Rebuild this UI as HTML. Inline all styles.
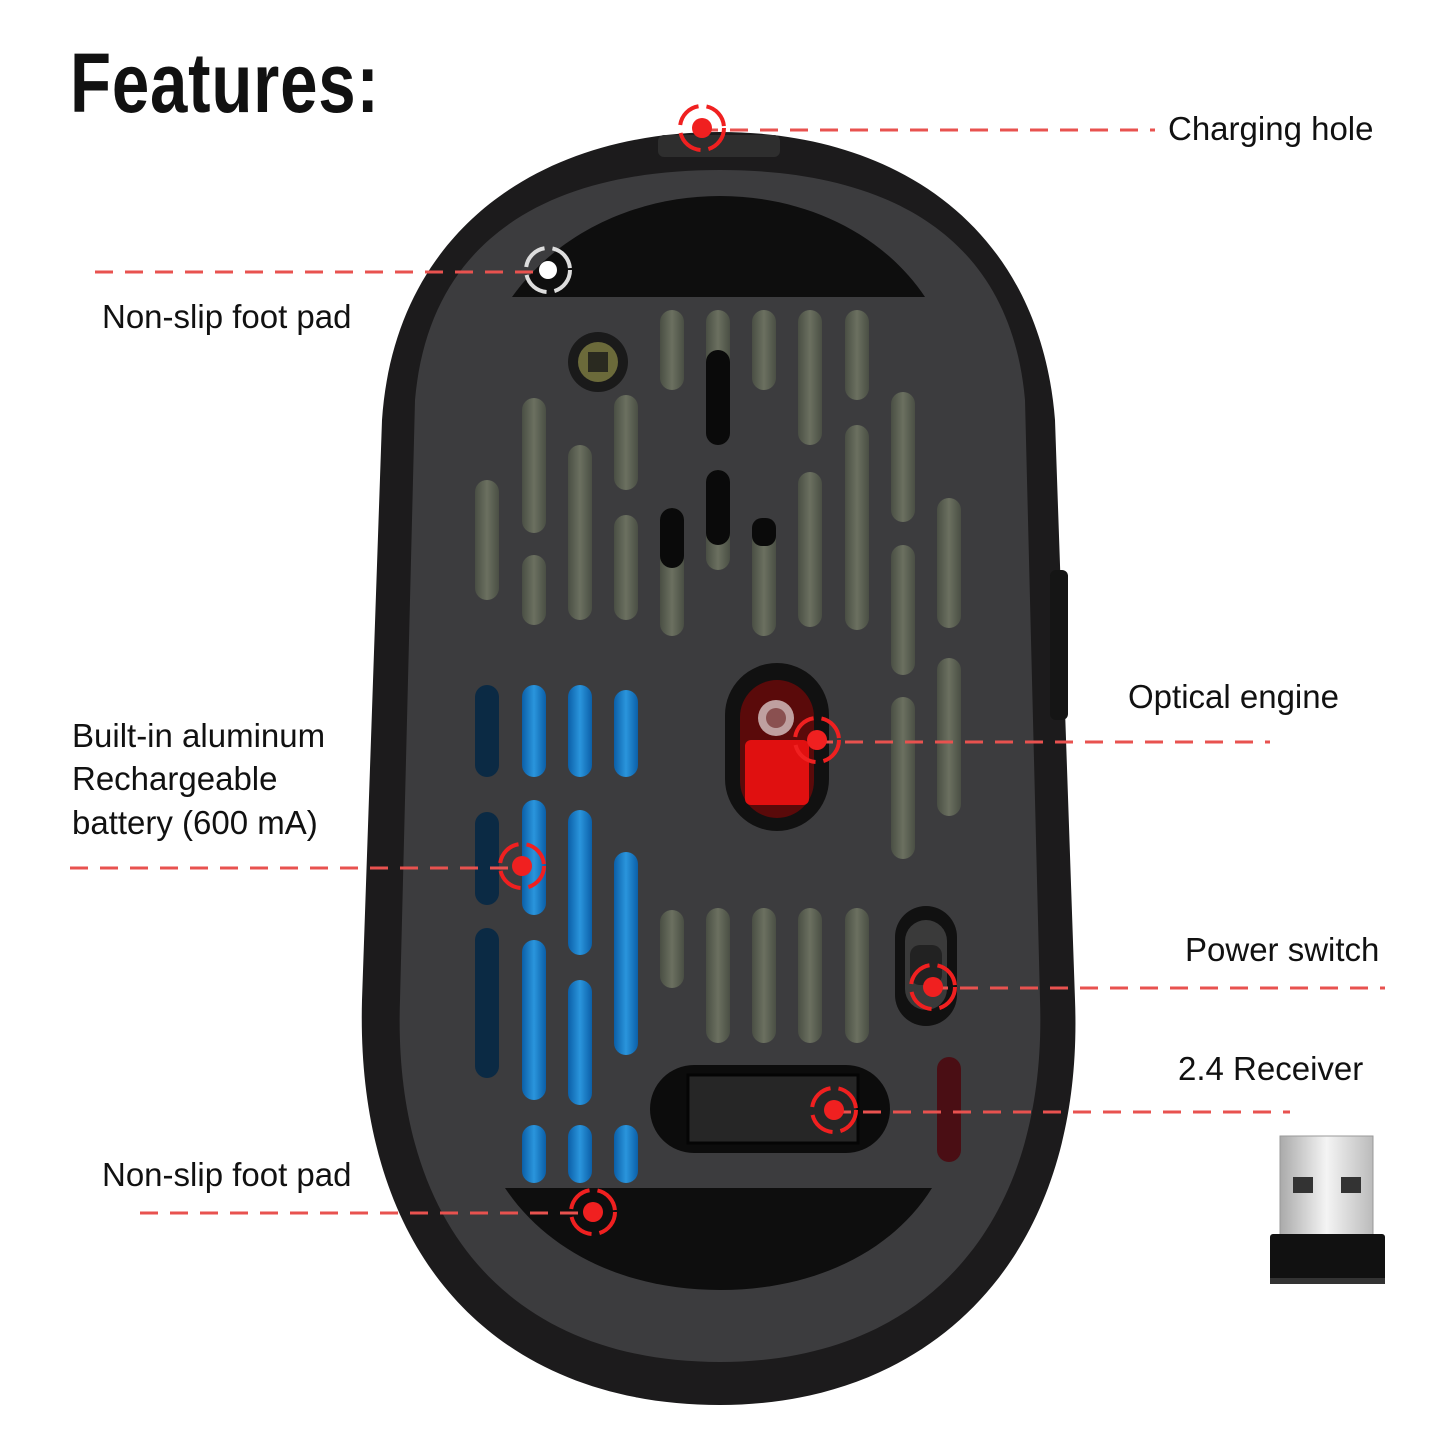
<!DOCTYPE html>
<html><head><meta charset="utf-8">
<style>
html,body{margin:0;padding:0;background:#fff;}
svg{display:block;}
text{font-family:"Liberation Sans",sans-serif;fill:#111;}
</style></head><body>
<svg width="1445" height="1445" viewBox="0 0 1445 1445" xmlns="http://www.w3.org/2000/svg">
<defs>
<linearGradient id="blue" x1="0" x2="1"><stop offset="0" stop-color="#0b5fa8"/><stop offset="0.5" stop-color="#2a95dc"/><stop offset="1" stop-color="#0b5fa8"/></linearGradient>
<linearGradient id="pcb" x1="0" x2="1"><stop offset="0" stop-color="#4a4f44"/><stop offset="0.5" stop-color="#6b7060"/><stop offset="1" stop-color="#4a4f44"/></linearGradient>
<linearGradient id="usb" x1="0" x2="1"><stop offset="0" stop-color="#aaa"/><stop offset="0.5" stop-color="#f4f4f4"/><stop offset="1" stop-color="#bbb"/></linearGradient>
</defs>
<text x="70" y="112" font-size="84" font-weight="bold" transform="translate(70 0) scale(0.8 1) translate(-70 0)" style="letter-spacing:1px">Features:</text>

<path d="M720 132 C900 132 1040 230 1055 420 L1075 1000 C1085 1260 930 1405 720 1405 C500 1405 355 1260 362 1000 L382 420 C395 230 540 132 720 132 Z" fill="#1c1b1c"/>
<rect x="1050" y="570" width="18" height="150" rx="6" fill="#151515"/>
<rect x="658" y="135" width="122" height="22" rx="6" fill="#2e2e2e"/>
<path d="M720 170 C880 170 1010 230 1025 400 L1040 1000 C1048 1230 920 1362 720 1362 C515 1362 392 1230 400 1000 L415 400 C430 230 560 170 720 170 Z" fill="#3c3c3e"/>
<path d="M512 297 C560 230 640 196 720 196 C800 196 880 230 925 297 Z" fill="#0e0e0e"/>
<path d="M505 1188 L932 1188 C890 1255 810 1290 720 1290 C630 1290 550 1255 505 1188 Z" fill="#0e0e0e"/>
<circle cx="598" cy="362" r="30" fill="#1a1a1a"/><circle cx="598" cy="362" r="20" fill="#6b6a3a"/><rect x="588" y="352" width="20" height="20" fill="#2a2a20"/>
<g fill="url(#pcb)">
<rect x="660" y="310" width="24" height="80" rx="12"/><rect x="706" y="310" width="24" height="80" rx="12"/><rect x="752" y="310" width="24" height="80" rx="12"/>
<rect x="798" y="310" width="24" height="135" rx="12"/><rect x="845" y="310" width="24" height="90" rx="12"/>
<rect x="522" y="398" width="24" height="135" rx="12"/><rect x="614" y="395" width="24" height="95" rx="12"/>
<rect x="475" y="480" width="24" height="120" rx="12"/><rect x="568" y="445" width="24" height="175" rx="12"/>
<rect x="522" y="555" width="24" height="70" rx="12"/><rect x="614" y="515" width="24" height="105" rx="12"/>
<rect x="660" y="508" width="24" height="128" rx="12"/><rect x="706" y="470" width="24" height="100" rx="12"/><rect x="752" y="518" width="24" height="118" rx="12"/>
<rect x="798" y="472" width="24" height="155" rx="12"/><rect x="845" y="425" width="24" height="205" rx="12"/>
<rect x="891" y="392" width="24" height="130" rx="12"/><rect x="891" y="545" width="24" height="130" rx="12"/><rect x="891" y="697" width="24" height="162" rx="12"/>
<rect x="937" y="498" width="24" height="130" rx="12"/><rect x="937" y="658" width="24" height="158" rx="12"/>
<rect x="660" y="910" width="24" height="78" rx="12"/><rect x="706" y="908" width="24" height="135" rx="12"/><rect x="752" y="908" width="24" height="135" rx="12"/><rect x="798" y="908" width="24" height="135" rx="12"/><rect x="845" y="908" width="24" height="135" rx="12"/>
</g>
<g fill="#0a0a0a"><rect x="706" y="350" width="24" height="95" rx="12"/><rect x="706" y="470" width="24" height="75" rx="12"/><rect x="660" y="508" width="24" height="60" rx="12"/><rect x="752" y="518" width="24" height="28" rx="10"/></g>
<g fill="#0b2a44"><rect x="475" y="685" width="24" height="92" rx="12"/><rect x="475" y="812" width="24" height="93" rx="12"/><rect x="475" y="928" width="24" height="150" rx="12"/></g>
<g fill="url(#blue)">
<rect x="522" y="685" width="24" height="92" rx="12"/><rect x="568" y="685" width="24" height="92" rx="12"/><rect x="614" y="690" width="24" height="87" rx="12"/>
<rect x="522" y="800" width="24" height="115" rx="12"/><rect x="568" y="810" width="24" height="145" rx="12"/><rect x="614" y="852" width="24" height="203" rx="12"/>
<rect x="522" y="940" width="24" height="160" rx="12"/><rect x="568" y="980" width="24" height="125" rx="12"/>
<rect x="522" y="1125" width="24" height="58" rx="12"/><rect x="568" y="1125" width="24" height="58" rx="12"/><rect x="614" y="1125" width="24" height="58" rx="12"/>
</g>
<rect x="725" y="663" width="104" height="168" rx="52" fill="#111"/>
<rect x="740" y="680" width="74" height="138" rx="37" fill="#5a0a0a"/>
<rect x="745" y="740" width="64" height="65" rx="6" fill="#e01010"/>
<circle cx="776" cy="718" r="18" fill="#bfa0a0"/><circle cx="776" cy="718" r="10" fill="#8a5050"/>
<rect x="895" y="906" width="62" height="120" rx="31" fill="#111"/>
<rect x="905" y="920" width="42" height="90" rx="21" fill="#3a3a3a"/>
<rect x="910" y="945" width="32" height="40" rx="10" fill="#222"/>
<rect x="937" y="1057" width="24" height="105" rx="12" fill="#4a0e14"/>
<rect x="650" y="1065" width="240" height="88" rx="44" fill="#0c0c0c"/>
<rect x="688" y="1075" width="170" height="68" fill="#262626" stroke="#050505" stroke-width="3"/>

<g stroke="#e8524f" stroke-width="3" stroke-dasharray="18 12" fill="none">
<line x1="700" y1="130" x2="1155" y2="130"/>
<line x1="95" y1="272" x2="545" y2="272"/>
<line x1="815" y1="742" x2="1270" y2="742"/>
<line x1="70" y1="868" x2="520" y2="868"/>
<line x1="930" y1="988" x2="1385" y2="988"/>
<line x1="833" y1="1112" x2="1290" y2="1112"/>
<line x1="140" y1="1213" x2="592" y2="1213"/>
</g>
<g fill="#f02020">
<circle cx="702" cy="128" r="10"/><circle cx="817" cy="740" r="10"/><circle cx="522" cy="866" r="10"/>
<circle cx="933" cy="987" r="10"/><circle cx="834" cy="1110" r="10"/><circle cx="593" cy="1212" r="10"/>
</g>
<circle cx="548" cy="270" r="9" fill="#fff"/>
<g fill="none" stroke-width="4" stroke="#f02020">
<circle cx="702" cy="128" r="22" stroke-dasharray="28 8"/><circle cx="817" cy="740" r="22" stroke-dasharray="28 8"/><circle cx="522" cy="866" r="22" stroke-dasharray="28 8"/>
<circle cx="933" cy="987" r="22" stroke-dasharray="28 8"/><circle cx="834" cy="1110" r="22" stroke-dasharray="28 8"/><circle cx="593" cy="1212" r="22" stroke-dasharray="28 8"/>
</g>
<circle cx="548" cy="270" r="22" fill="none" stroke="#ddd" stroke-width="4" stroke-dasharray="28 8"/>

<g font-size="33">
<text x="1168" y="140">Charging hole</text>
<text x="102" y="328">Non-slip foot pad</text>
<text x="1128" y="708">Optical engine</text>
<text x="72" y="747">Built-in aluminum</text>
<text x="72" y="790">Rechargeable</text>
<text x="72" y="834">battery (600 mA)</text>
<text x="1185" y="961">Power switch</text>
<text x="1178" y="1080">2.4 Receiver</text>
<text x="102" y="1186">Non-slip foot pad</text>
</g>

<rect x="1280" y="1136" width="93" height="100" fill="url(#usb)" stroke="#999"/>
<rect x="1293" y="1177" width="20" height="16" fill="#333"/><rect x="1341" y="1177" width="20" height="16" fill="#333"/>
<rect x="1270" y="1234" width="115" height="50" rx="3" fill="#111"/>
<rect x="1270" y="1278" width="115" height="6" fill="#333"/>
</svg>
</body></html>
